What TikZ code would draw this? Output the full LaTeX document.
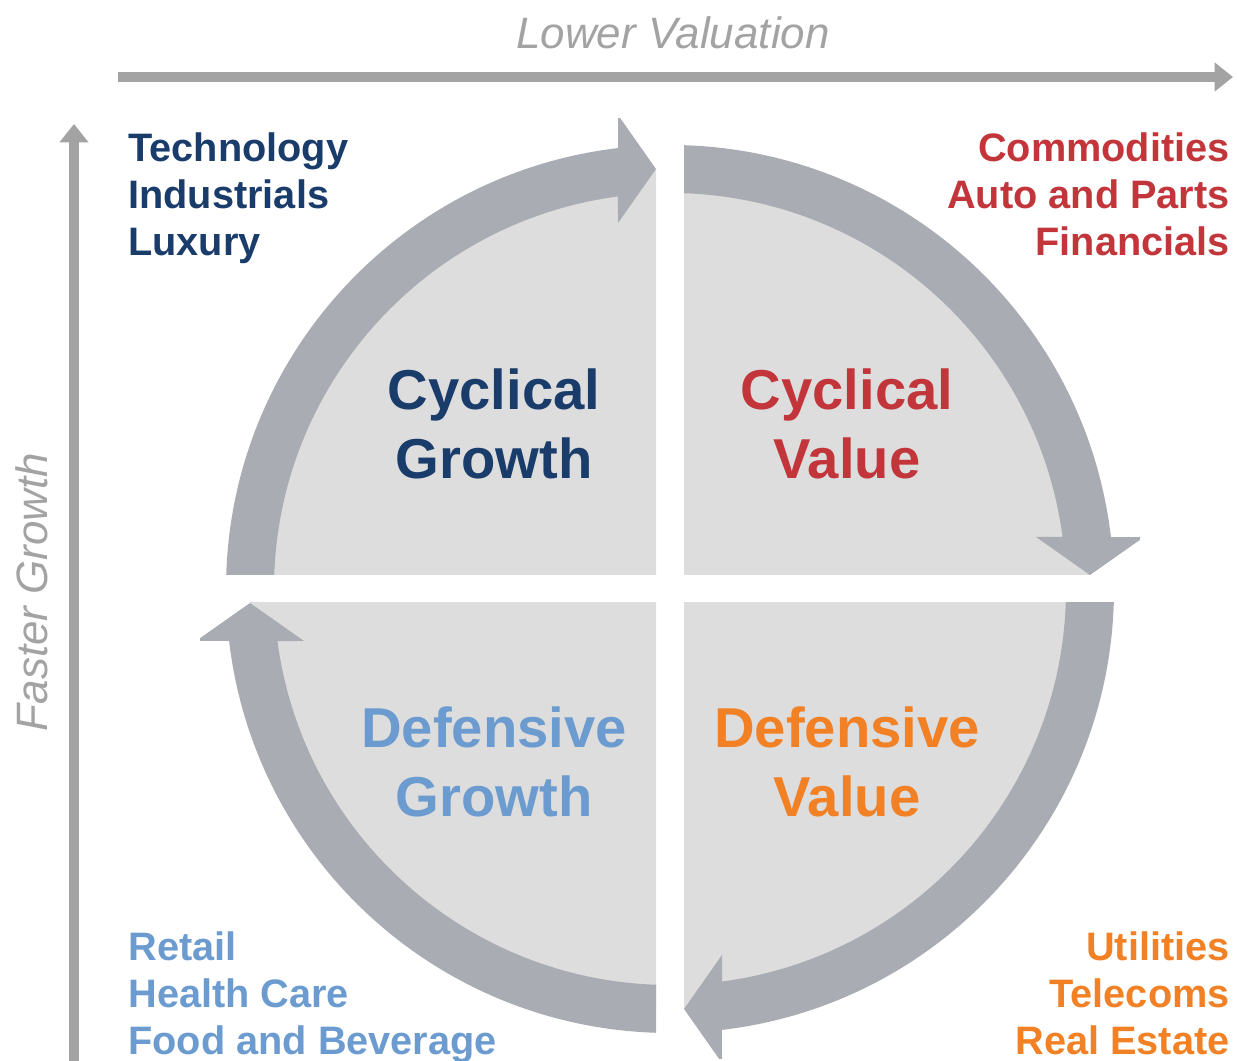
\documentclass[tikz,border=0pt]{standalone}
\usepackage{fontspec}
\setmainfont{Liberation Sans}
\usetikzlibrary{arrows.meta}
\definecolor{cycnavy}{HTML}{1A3C6B}
\definecolor{cycred}{HTML}{C2363B}
\definecolor{defblue}{HTML}{6C9BCF}
\definecolor{deforange}{HTML}{F28024}
\definecolor{ringgrey}{HTML}{A9ADB3}
\definecolor{quadgrey}{HTML}{DDDDDD}
\definecolor{axisgrey}{HTML}{A3A3A3}

\begin{document}
\begin{tikzpicture}[
        x=0.02cm, y=0.02cm,
        every node/.style={inner sep=0pt},
        axis/.style={
          draw=axisgrey, line width=5.4pt,
          -{Triangle[length=10.5pt, width=16pt]},
        },
        axislabel/.style={
          font=\fontsize{25}{30}\selectfont\itshape, text=axisgrey,
        },
        quadlabel/.style={
          font=\fontsize{32}{39}\selectfont\bfseries, align=center,
        },
        sectors/.style={
          font=\fontsize{22.6}{26.8}\selectfont\bfseries,
        },
      ]
      \useasboundingbox (0,0) rectangle (1237,1061);

      % four quarters, each with its ring arrow (clockwise)
      \foreach \a in {0,-90,-180,-270} {
        \begin{scope}[shift={(670,472)}, rotate=\a]
          \clip (-14,14) rectangle (-470,470);
          \fill[quadgrey] (0,0) circle (420);
          \fill[ringgrey] (180:444) arc[start angle=180, end angle=96.72, radius=444]
            -- (-52,474) -- (-14,420) -- (-52,366)
            -- (97.55:396) arc[start angle=97.55, end angle=180, radius=396] -- cycle;
        \end{scope}
      }

      % axes
      \coordinate (xfrom) at (118,984);
      \coordinate (xto) at (1233,984);
      \coordinate (yfrom) at (74,0);
      \coordinate (yto) at (74,937);
      \draw[axis] (xfrom) -- (xto);
      \draw[axis] (yfrom) -- (yto);
      \node[axislabel] (valuation) at (673,1028) {Lower Valuation};
      \node[axislabel, rotate=90] (growth) at (32,469) {Faster Growth};

      % quarter titles
      \node[quadlabel, text=cycnavy] (cycgrowth) at (494,637) {Cyclical\\Growth};
      \node[quadlabel, text=cycred] (cycvalue) at (847,637) {Cyclical\\Value};
      \node[quadlabel, text=defblue] (defgrowth) at (494,299) {Defensive\\Growth};
      \node[quadlabel, text=deforange] (defvalue) at (847,299) {Defensive\\Value};

      % sectors in each corner
      \node[sectors, text=cycnavy, align=left, anchor=north west] (cgsectors)
        at (128,929) {Technology\\Industrials\\Luxury};
      \node[sectors, text=cycred, align=right, anchor=north east] (cvsectors)
        at (1230,929) {Commodities\\Auto and Parts\\Financials};
      \node[sectors, text=defblue, align=left, anchor=north west] (dgsectors)
        at (128,130) {Retail\\Health Care\\Food and Beverage};
      \node[sectors, text=deforange, align=right, anchor=north east] (dvsectors)
        at (1230,130) {Utilities\\Telecoms\\Real Estate};
    \end{tikzpicture}
\end{document}
